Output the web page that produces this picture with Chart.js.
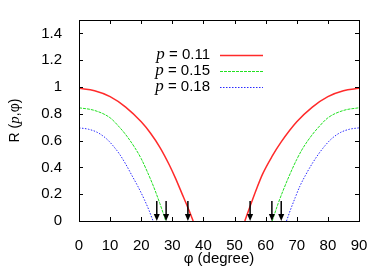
<!DOCTYPE html>
<html lang="en">
<head>
    <meta charset="UTF-8">
    <title>R(p, phi)</title>
    <script src="https://cdn.jsdelivr.net/npm/chart.js"></script>
    <style>
        html, body { margin: 0; padding: 0; background: #fff; }
        #wrap { width: 389px; height: 273px; }
    </style>
</head>
<body>
    <div id="wrap"><canvas id="chart" width="389" height="273"></canvas></div>

    <script>
        // values (phi in degrees, R dimensionless)
        const pLabels = ['0.11', '0.15', '0.18'];

        const phiRedLeft = [0, 5, 10, 15, 20, 23, 26, 29, 31, 33, 35, 36.7];
        const rRedLeft = [0.99, 0.972, 0.928, 0.85, 0.74, 0.655, 0.55, 0.42, 0.32, 0.21, 0.1, 0];
        const phiRedRight = [53.3, 55, 57, 59, 62, 65, 70, 75, 80, 85, 90];
        const rRedRight = [0, 0.11, 0.235, 0.35, 0.48, 0.59, 0.74, 0.85, 0.928, 0.972, 0.99];

        const phiGreenLeft = [0, 5, 10, 13, 15, 18, 20, 22, 24, 26, 27.9];
        const rGreenLeft = [0.845, 0.825, 0.77, 0.7, 0.645, 0.545, 0.465, 0.365, 0.255, 0.13, 0];
        const phiGreenRight = [62.1, 64, 66, 68, 70, 72, 75, 77, 80, 85, 90];
        const rGreenRight = [0, 0.13, 0.25, 0.36, 0.46, 0.545, 0.645, 0.7, 0.77, 0.825, 0.845];

        const phiBlueLeft = [0, 3, 6, 9, 11, 13, 15, 17, 19, 21, 22.5, 23.8];
        const rBlueLeft = [0.695, 0.685, 0.66, 0.61, 0.56, 0.5, 0.425, 0.34, 0.255, 0.16, 0.08, 0];
        const phiBlueRight = [66.7, 68, 69.5, 71, 73, 75, 77, 79, 81, 84, 87, 90];
        const rBlueRight = [0, 0.085, 0.175, 0.26, 0.35, 0.43, 0.5, 0.56, 0.61, 0.66, 0.685, 0.695];

        // black arrows marking the zeros
        const arrowPhi = [25, 28, 35, 55, 62, 65];
        const arrowTop = 0.15;

        const xTicks = [0, 10, 20, 30, 40, 50, 60, 70, 80, 90];
        const yTicks = [0, 0.2, 0.4, 0.6, 0.8, 1, 1.2, 1.4];
        const yTickLabels = ['0', '0.2', '0.4', '0.6', '0.8', '1', '1.2', '1.4'];

        function curve(phiL, rL, phiR, rR) {
            const pts = phiL.map((x, i) => ({ x: x, y: rL[i] }));
            pts.push({ x: 45, y: null }); // gap between the two branches
            phiR.forEach((x, i) => pts.push({ x: x, y: rR[i] }));
            return pts;
        }

        const SANS = '"Liberation Sans", Arial, sans-serif';
        const SERIF = '"Liberation Serif", "DejaVu Serif", serif';

        // box with inward ticks on all four sides, gnuplot style
        const framePlugin = {
            id: 'frame',
            afterDatasetsDraw(chart) {
                const { ctx, chartArea: a, scales } = chart;
                ctx.save();
                ctx.strokeStyle = '#000';
                ctx.lineWidth = 1;
                ctx.strokeRect(Math.round(a.left) + 0.5, Math.round(a.top) + 0.5,
                    Math.round(a.right - a.left), Math.round(a.bottom - a.top));
                ctx.beginPath();
                xTicks.forEach(v => {
                    const x = Math.round(scales.x.getPixelForValue(v)) + 0.5;
                    ctx.moveTo(x, a.bottom); ctx.lineTo(x, a.bottom - 4);
                    ctx.moveTo(x, a.top); ctx.lineTo(x, a.top + 4);
                });
                yTicks.forEach(v => {
                    const y = Math.round(scales.y.getPixelForValue(v)) + 0.5;
                    ctx.moveTo(a.left, y); ctx.lineTo(a.left + 4, y);
                    ctx.moveTo(a.right, y); ctx.lineTo(a.right - 4, y);
                });
                ctx.stroke();

                // arrows
                ctx.fillStyle = '#000';
                ctx.lineWidth = 1.5;
                arrowPhi.forEach(v => {
                    const x = scales.x.getPixelForValue(v);
                    const y0 = scales.y.getPixelForValue(arrowTop);
                    const y1 = scales.y.getPixelForValue(0);
                    ctx.beginPath();
                    ctx.moveTo(x, y0); ctx.lineTo(x, y1 - 6);
                    ctx.stroke();
                    ctx.beginPath();
                    ctx.moveTo(x - 3, y1 - 7); ctx.lineTo(x + 3, y1 - 7); ctx.lineTo(x, y1);
                    ctx.closePath();
                    ctx.fill();
                });
                ctx.restore();
            }
        };

        // key: "p = 0.11" then the line sample, and the y axis title
        const keyPlugin = {
            id: 'key',
            afterDraw(chart) {
                const ctx = chart.ctx;
                ctx.save();
                ctx.textBaseline = 'middle';
                chart.data.datasets.forEach((ds, i) => {
                    if (!ds.label) return;
                    const y = 55 + i * 16;
                    const rest = ' = ' + ds.label;
                    ctx.font = '15px ' + SANS;
                    ctx.fillStyle = '#000';
                    ctx.textAlign = 'right';
                    ctx.fillText(rest, 210, y);
                    const w = ctx.measureText(rest).width;
                    ctx.font = 'italic 17px ' + SERIF;
                    ctx.fillText('p', 210 - w, y);
                    ctx.beginPath();
                    ctx.strokeStyle = ds.borderColor;
                    ctx.lineWidth = ds.borderWidth;
                    ctx.setLineDash(ds.borderDash || []);
                    ctx.moveTo(220, y + 0.5); ctx.lineTo(263, y + 0.5);
                    ctx.stroke();
                });
                ctx.setLineDash([]);

                // rotated y title: R (p,phi)
                const a = chart.chartArea;
                ctx.translate(15, (a.top + a.bottom) / 2);
                ctx.rotate(-Math.PI / 2);
                const parts = [['R (', '14px ' + SANS], ['p', 'italic 15px ' + SERIF], [',\u03c6)', '14px ' + SANS]];
                let total = 0;
                parts.forEach(p => { ctx.font = p[1]; total += ctx.measureText(p[0]).width; });
                let x = -total / 2;
                ctx.textAlign = 'left';
                ctx.fillStyle = '#000';
                parts.forEach(p => {
                    ctx.font = p[1];
                    ctx.fillText(p[0], x, 0);
                    x += ctx.measureText(p[0]).width;
                });
                ctx.restore();
            }
        };

        new Chart(document.getElementById('chart'), {
            type: 'line',
            data: {
                datasets: [
                    {
                        label: pLabels[0],
                        data: curve(phiRedLeft, rRedLeft, phiRedRight, rRedRight),
                        borderColor: '#ff2a2a',
                        borderWidth: 1.5
                    },
                    {
                        label: pLabels[1],
                        data: curve(phiGreenLeft, rGreenLeft, phiGreenRight, rGreenRight),
                        borderColor: '#22e022',
                        borderWidth: 1,
                        borderDash: [3, 1]
                    },
                    {
                        label: pLabels[2],
                        data: curve(phiBlueLeft, rBlueLeft, phiBlueRight, rBlueRight),
                        borderColor: '#2a2aff',
                        borderWidth: 1,
                        borderDash: [1.5, 1.5]
                    }
                ]
            },
            options: {
                responsive: false,
                animation: false,
                spanGaps: false,
                elements: {
                    point: { radius: 0 },
                    line: { cubicInterpolationMode: 'monotone', fill: false }
                },
                layout: { padding: { left: 0, right: 30, top: 20, bottom: 0 } },
                plugins: { legend: { display: false }, tooltip: { enabled: false } },
                scales: {
                    x: {
                        type: 'linear',
                        min: 0,
                        max: 90,
                        grid: { display: false },
                        border: { display: false },
                        afterBuildTicks: s => { s.ticks = xTicks.map(v => ({ value: v })); },
                        afterFit: s => { s.height = 52; },
                        ticks: {
                            color: '#000',
                            padding: 8,
                            maxRotation: 0,
                            font: { family: SANS, size: 15 },
                            callback: v => String(v)
                        },
                        title: {
                            display: true,
                            text: '\u03c6 (degree)',
                            color: '#000',
                            font: { family: SANS, size: 15 },
                            padding: { top: 0, bottom: 5 }
                        }
                    },
                    y: {
                        min: 0,
                        max: 1.5,
                        grid: { display: false },
                        border: { display: false },
                        afterBuildTicks: s => { s.ticks = yTicks.map(v => ({ value: v })); },
                        afterFit: s => { s.width = 79; },
                        ticks: {
                            color: '#000',
                            padding: 9,
                            font: { family: SANS, size: 15 },
                            callback: (v, i) => yTickLabels[i]
                        }
                    }
                }
            },
            plugins: [framePlugin, keyPlugin]
        });
    </script>
</body>
</html>
